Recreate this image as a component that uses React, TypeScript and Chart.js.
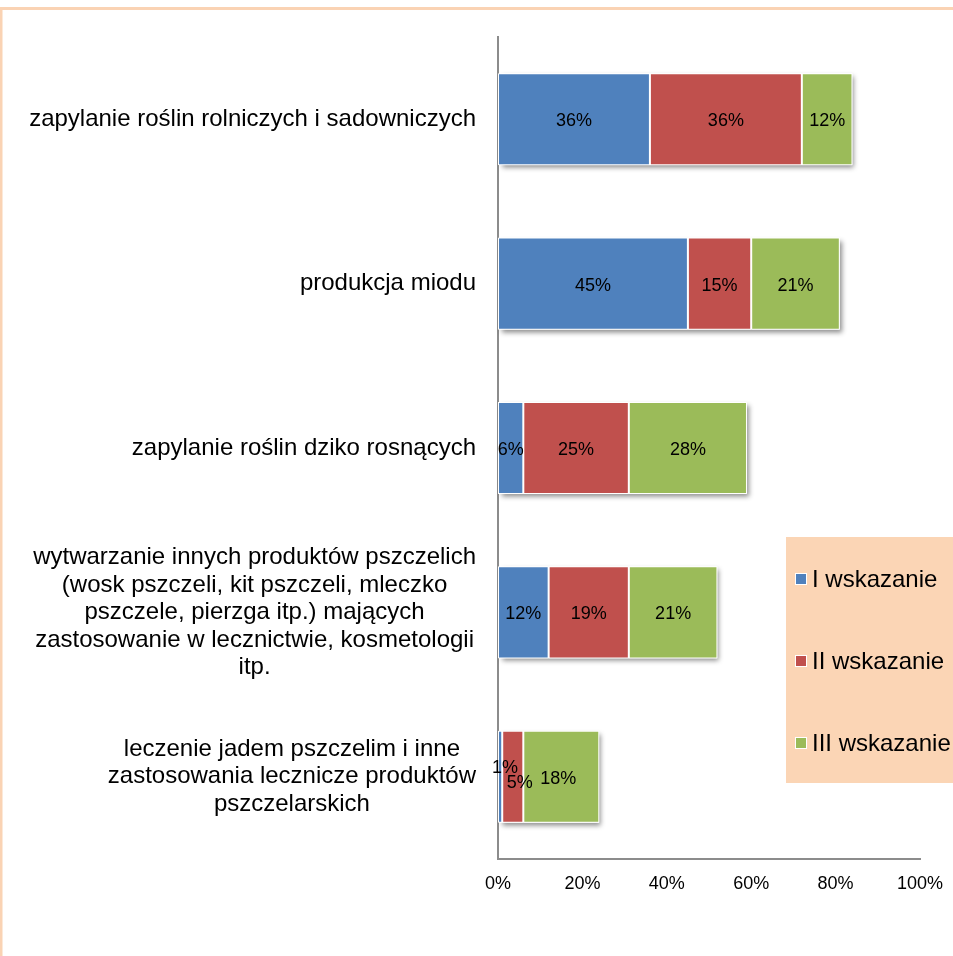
import { useEffect, useRef } from 'react';
import { Chart, registerables } from 'chart.js';

Chart.register(...registerables);

const categories: string[][] = [
  ['zapylanie roślin rolniczych i sadowniczych'],
  ['produkcja miodu'],
  ['zapylanie roślin dziko rosnących'],
  [
    'wytwarzanie innych produktów pszczelich',
    '(wosk pszczeli, kit pszczeli, mleczko',
    'pszczele, pierzga itp.) mających',
    'zastosowanie w lecznictwie, kosmetologii',
    'itp.',
  ],
  ['leczenie jadem pszczelim i inne', 'zastosowania lecznicze produktów', 'pszczelarskich'],
];

const seriesNames = ['I wskazanie', 'II wskazanie', 'III wskazanie'];
const wskazanieI = [36, 45, 6, 12, 1];
const wskazanieII = [36, 15, 25, 19, 5];
const wskazanieIII = [12, 21, 28, 21, 18];
const seriesColors = ['#4F81BD', '#C0504D', '#9BBB59'];

const xTickValues = [0, 20, 40, 60, 80, 100];

// pixel nudges for crowded value labels [series-category] -> [dx, dy]
const labelNudge: Record<string, [number, number]> = {
  '0-4': [5, -11],
  '1-4': [7, 4],
  '2-4': [-3, 0],
};

const FONT = '"Liberation Sans", Arial, Helvetica, sans-serif';

export default function App() {
  const ref = useRef<HTMLCanvasElement>(null);

  useEffect(() => {
    const canvas = ref.current;
    if (!canvas) return;
    Chart.defaults.font.family = FONT;

    const framePlugin = {
      id: 'frame',
      beforeDraw(chart: any) {
        const ctx = chart.ctx;
        ctx.save();
        ctx.fillStyle = '#ffffff';
        ctx.fillRect(0, 0, chart.width, chart.height);
        ctx.strokeStyle = '#FAD3B4';
        ctx.lineWidth = 3;
        ctx.beginPath();
        ctx.moveTo(chart.width, 8.5);
        ctx.lineTo(1, 8.5);
        ctx.lineTo(1, chart.height);
        ctx.stroke();
        ctx.restore();
      },
    };

    const shadowPlugin = {
      id: 'barShadow',
      beforeDatasetsDraw(chart: any) {
        const ctx = chart.ctx;
        const metas = chart.getSortedVisibleDatasetMetas();
        const n = chart.data.labels.length;
        ctx.save();
        ctx.shadowColor = 'rgba(0,0,0,0.45)';
        ctx.shadowBlur = 5;
        ctx.shadowOffsetX = 2;
        ctx.shadowOffsetY = 3;
        ctx.fillStyle = '#ffffff';
        for (let i = 0; i < n; i++) {
          let left = Infinity;
          let right = -Infinity;
          let top = 0;
          let bottom = 0;
          metas.forEach((m: any) => {
            const p = m.data[i].getProps(['x', 'y', 'base', 'height'], true);
            left = Math.min(left, p.base, p.x);
            right = Math.max(right, p.base, p.x);
            top = p.y - p.height / 2;
            bottom = p.y + p.height / 2;
          });
          ctx.fillRect(left + 2, top, right - left - 2, bottom - top);
        }
        ctx.restore();
      },
    };

    const valueLabelPlugin = {
      id: 'valueLabels',
      afterDatasetsDraw(chart: any) {
        const ctx = chart.ctx;
        ctx.save();
        ctx.font = `18px ${FONT}`;
        ctx.fillStyle = '#000000';
        ctx.textAlign = 'center';
        ctx.textBaseline = 'middle';
        chart.getSortedVisibleDatasetMetas().forEach((m: any) => {
          const ds = chart.data.datasets[m.index];
          m.data.forEach((el: any, i: number) => {
            const p = el.getProps(['x', 'y', 'base'], true);
            const nudge = labelNudge[`${m.index}-${i}`] || [0, 0];
            ctx.fillText(`${ds.data[i]}%`, (p.x + p.base) / 2 + nudge[0], p.y + 2 + nudge[1]);
          });
        });
        ctx.restore();
      },
    };

    const categoryLabelPlugin = {
      id: 'categoryLabels',
      afterDraw(chart: any) {
        const ctx = chart.ctx;
        const yScale = chart.scales.y;
        const rightEdge = chart.chartArea.left - 22;
        const lineH = 27.5;
        ctx.save();
        ctx.font = `24px ${FONT}`;
        ctx.fillStyle = '#000000';
        ctx.textAlign = 'center';
        ctx.textBaseline = 'middle';
        categories.forEach((lines, i) => {
          const maxW = Math.max(...lines.map((l) => ctx.measureText(l).width));
          const cx = rightEdge - maxW / 2;
          const yc = yScale.getPixelForValue(i);
          const y0 = yc - ((lines.length - 1) * lineH) / 2;
          lines.forEach((l, k) => ctx.fillText(l, cx, y0 + k * lineH));
        });
        ctx.restore();
      },
    };

    const legendPlugin = {
      id: 'customLegend',
      afterDraw(chart: any) {
        const ctx = chart.ctx;
        ctx.save();
        ctx.fillStyle = '#FBD5B5';
        ctx.fillRect(786, 537, chart.width - 786, 246);
        ctx.font = `24px ${FONT}`;
        ctx.textBaseline = 'middle';
        ctx.textAlign = 'left';
        const ys = [579, 661, 743];
        chart.data.datasets.forEach((ds: any, i: number) => {
          const y = ys[i];
          ctx.fillStyle = '#ffffff';
          ctx.fillRect(795, y - 6, 12, 12);
          ctx.fillStyle = ds.backgroundColor;
          ctx.fillRect(796, y - 5, 10, 10);
          ctx.fillStyle = '#000000';
          ctx.fillText(ds.label, 812, y + 1);
        });
        ctx.restore();
      },
    };

    const seriesData = [wskazanieI, wskazanieII, wskazanieIII];

    const chart = new Chart(canvas, {
      type: 'bar',
      data: {
        labels: categories.map((c) => c.join(' ')),
        datasets: seriesNames.map((name, i) => ({
          label: name,
          data: seriesData[i],
          backgroundColor: seriesColors[i],
          borderColor: '#ffffff',
          borderWidth: 1,
          borderSkipped: false,
          barPercentage: 0.56,
          categoryPercentage: 1,
        })),
      },
      options: {
        indexAxis: 'y',
        responsive: false,
        animation: false,
        devicePixelRatio: 1,
        layout: { padding: { top: 37, left: 0, right: 33, bottom: 57 } },
        plugins: {
          legend: { display: false },
          tooltip: { enabled: false },
        },
        scales: {
          x: {
            stacked: true,
            min: 0,
            max: 100,
            afterBuildTicks: (scale: any) => {
              scale.ticks = xTickValues.map((v) => ({ value: v }));
            },
            ticks: {
              callback: (v: any) => `${v}%`,
              font: { size: 18, family: FONT },
              color: '#000000',
              padding: 14,
              maxRotation: 0,
            },
            grid: { display: false, drawTicks: false },
            border: { display: true, color: '#8C8C8C', width: 2 },
            afterFit: (scale: any) => {
              scale.height = 40;
              scale.paddingLeft = 0;
              scale.paddingRight = 0;
            },
          },
          y: {
            stacked: true,
            ticks: { display: false },
            grid: { display: false, drawTicks: false },
            border: { display: true, color: '#8C8C8C', width: 2 },
            afterFit: (scale: any) => {
              scale.width = 498;
              scale.paddingTop = 0;
              scale.paddingBottom = 0;
            },
          },
        },
      },
      plugins: [framePlugin, shadowPlugin, valueLabelPlugin, categoryLabelPlugin, legendPlugin],
    } as any);

    return () => chart.destroy();
  }, []);

  return (
    <div style={{ position: 'absolute', left: 0, top: 0, width: 953, height: 956 }}>
      <canvas ref={ref} width={953} height={956} style={{ display: 'block', width: 953, height: 956 }} />
    </div>
  );
}
